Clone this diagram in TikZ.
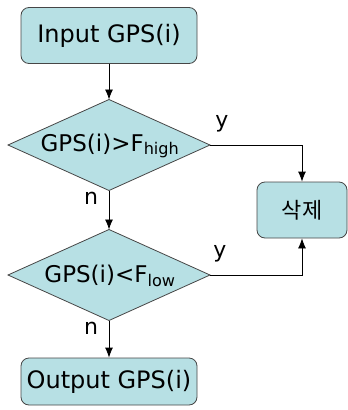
\documentclass[tikz,border=0pt]{standalone}
\usepackage{fontspec}
\setmainfont{DejaVu Sans}
\newfontfamily\krfont{Noto Sans CJK KR}
\usetikzlibrary{arrows.meta}
\definecolor{boxfill}{RGB}{183,224,228}
\definecolor{boxline}{RGB}{70,70,70}
\tikzset{
  procbox/.style={draw=boxline, line width=0.8pt, fill=boxfill, rounded corners=8pt, inner sep=0pt, font=\fontsize{24}{28}\selectfont},
  decshape/.style={draw=boxline, line width=0.8pt, fill=boxfill, line join=miter},
  dectext/.style={inner sep=0pt, font=\fontsize{23}{27}\selectfont},
  flow/.style={draw=black, line width=0.8pt, -{Latex[length=10pt,width=8pt]}},
  lbl/.style={font=\fontsize{22}{26}\selectfont, inner sep=0pt}
}
\begin{document}
\begin{tikzpicture}[x=1pt,y=-1pt]
\useasboundingbox (0,0) rectangle (348,410);
% boxes
\node[procbox, minimum width=176pt, minimum height=56pt] (in) at (109,35.5) {Input GPS(i)};
\node[procbox, minimum width=90pt, minimum height=56pt, font=\krfont\fontsize{22}{26}\selectfont] (del) at (302,210) {삭제};
\node[procbox, minimum width=176pt, minimum height=47pt] (out) at (109,381.5) {Output GPS(i)};
% decision 1
\coordinate (d1n) at (109,99.5);
\coordinate (d1s) at (109,190.5);
\coordinate (d1e) at (210,145);
\coordinate (d1w) at (8,145);
\draw[decshape] (d1w) -- (d1n) -- (d1e) -- (d1s) -- cycle;
\node[dectext] (d1) at (110,146) {GPS(i)>F\textsubscript{high}};
% decision 2
\coordinate (d2n) at (109,229.5);
\coordinate (d2s) at (109,320.5);
\coordinate (d2e) at (210,275);
\coordinate (d2w) at (8,275);
\draw[decshape] (d2w) -- (d2n) -- (d2e) -- (d2s) -- cycle;
\node[dectext] (d2) at (110,276) {GPS(i)<F\textsubscript{low}};
% connectors
\draw[flow] (in.south) -- (d1n);
\draw[flow] (d1s) -- (d2n);
\draw[flow] (d2s) -- (out.north);
\draw[flow] (d1e) -| (del.north);
\draw[flow] (d2e) -| (del.south);
% labels
\node[lbl] (y1) at (222,124) {y};
\node[lbl] (y2) at (220,254) {y};
\node[lbl] (n1) at (91,198) {n};
\node[lbl] (n2) at (91,328) {n};
\end{tikzpicture}
\end{document}
